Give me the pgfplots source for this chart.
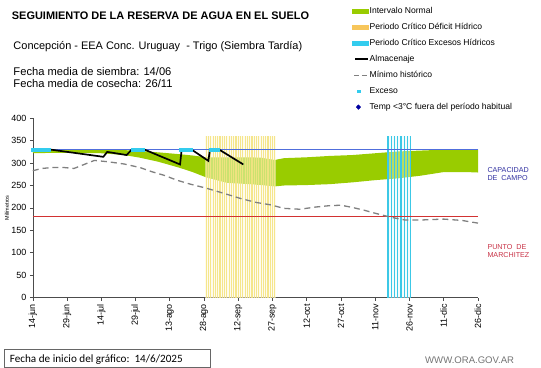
\documentclass[border=0pt]{standalone}
\usepackage{pgfplots}
\pgfplotsset{compat=1.18}
\usepgfplotslibrary{fillbetween}
\usepackage{pgfplotstable}
\usepackage{fontspec}
\setmainfont{Liberation Sans}
\newfontfamily\calib{Carlito}
\definecolor{grn}{RGB}{153,204,0}
\definecolor{yel}{RGB}{244,228,130}
\definecolor{yelpale}{RGB}{253,248,222}
\definecolor{cyn}{RGB}{51,204,238}
\definecolor{cynl}{RGB}{60,200,230}
\definecolor{cynpale}{RGB}{228,247,250}
\definecolor{capblue}{RGB}{80,110,220}
\definecolor{pmred}{RGB}{210,50,50}
\definecolor{dashgray}{RGB}{128,128,128}
\definecolor{txtblue}{RGB}{48,48,160}
\definecolor{txtred}{RGB}{200,50,70}
\definecolor{dkblue}{RGB}{0,0,160}

\pgfplotstableread{
day upper lower
0 328 322
10 329 323
20 330 323
30 330 322
40 329 318
47 327 312
55 324 303
64 320 290
70 317 280
76 313 268
85 313 256
95 313 253
100 312 251
106 307 248
110 311 250
120 313 251
130 316 253
140 318 257
150 322 262
160 326 266
170 328 272
180 330 280
190 330 280
195 330 279
}\bandtable

\pgfplotstableread{
day val
0 283
4 288
8 290
14 290
18 288
22 296
27 306
33 303
40 298
47 290
52 281
58 272
63 262
69 253
76 244
84 232
91 221
98 212
104 207
110 199
117 197
124 202
130 205
135 206
140 201
145 195
150 188
157 179
163 173
170 173
180 175
188 172
195 166
}\mintable

\pgfplotstableread{
day val
0 330
8 330
30.9 314
32.6 325
41.1 318
43.3 330
49 330
64.5 297
65.2 330
69.6 330
76.9 305
77.6 330
82 329
92.2 297
}\almtable

\pgfplotstableread{
day val
0 330
195 330
}\captable

\pgfplotstableread{
day val
0 180
195 180
}\pmtable

\begin{document}
\begin{tikzpicture}
\begin{axis}[at={(32.8bp,-297.5bp)}, anchor=south west, scale only axis,
  width=445.2bp, height=179.2bp,
  xmin=0, xmax=195, ymin=0, ymax=400, clip=false,
  axis x line*=bottom, axis y line*=left,
  axis line style={black!70, line width=0.6pt},
  tick align=outside, major tick length=3bp,
  tick style={black!70, line width=0.6pt},
  ytick={0,50,...,400}, xtick={0,15,...,195},
  xticklabels={14-jun,29-jun,14-jul,29-jul,13-ago,28-ago,12-sep,27-sep,12-oct,27-oct,11-nov,26-nov,11-dic,26-dic},
  xticklabel style={rotate=90, anchor=east, font=\fontsize{9}{10}\selectfont},
  yticklabel style={font=\fontsize{9}{10}\selectfont},
  /pgf/number format/assume math mode=true,
  ylabel={Milímetros},
  ylabel style={at={(axis description cs:-0.058,0.5)}, anchor=center, font=\fontsize{5.5}{6}\selectfont},
  legend cell align=left,
  legend style={at={(0.717,1.625)}, anchor=north west, draw=none, fill=none,
    font=\fontsize{8.6}{9}\selectfont, row sep=6.8bp, inner sep=0pt,
    nodes={inner sep=0.5bp, text height=6.5bp, text depth=1.7bp}},
]
\addlegendimage{legend image code/.code={\fill[grn] (0bp,-1.6bp) rectangle (16bp,1.6bp);}}
\addlegendentry{Intervalo Normal}
\addlegendimage{legend image code/.code={\fill[yel!70!orange] (0bp,-1.6bp) rectangle (16bp,1.6bp);}}
\addlegendentry{Periodo Crítico Déficit Hídrico}
\addlegendimage{legend image code/.code={\fill[cyn] (0bp,-1.6bp) rectangle (16bp,1.6bp);}}
\addlegendentry{Periodo Crítico Excesos Hídricos}
\addlegendimage{legend image code/.code={\draw[black, line width=1.6pt] (3bp,0) -- (16bp,0);}}
\addlegendentry{Almacenaje}
\addlegendimage{legend image code/.code={\draw[dashgray, line width=1.2pt, dash pattern=on 5bp off 2.5bp] (2bp,0) -- (16bp,0);}}
\addlegendentry{Mínimo histórico}
\addlegendimage{legend image code/.code={\fill[cyn] (4.9bp,-1.2bp) rectangle (7.3bp,1.2bp);}}
\addlegendentry{Exceso}
\addlegendimage{legend image code/.code={\fill[dkblue] (6bp,2.3bp) -- (8.2bp,0) -- (6bp,-2.3bp) -- (3.8bp,0) -- cycle;}}
\addlegendentry{Temp <3°C fuera del período habitual}

% green band
\addplot[name path=up, draw=none, forget plot] table[x=day, y=upper] {\bandtable};
\addplot[name path=lo, draw=none, forget plot] table[x=day, y=lower] {\bandtable};
\addplot[grn, forget plot] fill between[of=up and lo];

% critical periods
\addplot[fill=yelpale, draw=none, opacity=0.5, forget plot] coordinates {(75.6,361) (106.5,361)} \closedcycle;
\addplot[ycomb, yel, line width=1.1bp, opacity=0.9, forget plot] coordinates {
(76,361) (77,361) (78,361) (79,361) (80,361) (81,361) (82,361) (83,361) (84,361) (85,361)
(86,361) (87,361) (88,361) (89,361) (90,361) (91,361) (92,361) (93,361) (94,361) (95,361)
(96,361) (97,361) (98,361) (99,361) (100,361) (101,361) (102,361) (103,361) (104,361) (105,361) (106,361)};
\addplot[fill=cynpale, draw=none, opacity=0.4, forget plot] coordinates {(155.3,361) (165.8,361)} \closedcycle;
\addplot[ycomb, cynl, line width=1.2bp, forget plot] coordinates {
(155.6,361) (157.0,361) (158.5,361) (159.9,361) (161.3,361) (162.7,361) (164.2,361) (165.6,361)};

% reference lines
\addplot[draw=capblue, color=capblue, mark=none, line width=0.8pt, forget plot] table[x=day, y=val] {\captable};
\addplot[draw=pmred, color=pmred, mark=none, line width=0.8pt, forget plot] table[x=day, y=val] {\pmtable};

% minimum historic
\addplot[dashgray, mark=none, line width=1.3pt, dash pattern=on 6bp off 4bp, forget plot] table[x=day, y=val] {\mintable};
% storage
\addplot[black, mark=none, line width=1.7pt, forget plot] table[x=day, y=val] {\almtable};
% excess markers
\addplot[only marks, mark=square*, mark size=1.8bp, cyn, forget plot] coordinates {
(0,330) (1,330) (2,330) (3,330) (4,330) (5,330) (6,330) (7,330)
(44,330) (45,330) (46,330) (47,330) (48,330)
(65,330) (66,330) (67,330) (68,330) (69,330)
(78,330) (79,330) (80,330) (81,330)};
\end{axis}

% texts
\node[anchor=base west, inner sep=0pt, font=\fontsize{11}{12}\selectfont\bfseries] at (11.7bp,-19.3bp) {SEGUIMIENTO DE LA RESERVA DE AGUA EN EL SUELO};
\node[anchor=base west, inner sep=0pt, font=\fontsize{11}{12}\selectfont] at (13.3bp,-49.3bp) {Concepción - EEA Conc. Uruguay\ \ - Trigo (Siembra Tardía)};
\node[anchor=base west, inner sep=0pt, font=\fontsize{11.2}{12}\selectfont] at (13.3bp,-75bp) {Fecha media de siembra: 14/06};
\node[anchor=base west, inner sep=0pt, font=\fontsize{11.2}{12}\selectfont] at (13.3bp,-87.3bp) {Fecha media de cosecha: 26/11};
\node[anchor=base west, inner sep=0pt, font=\fontsize{7.2}{8}\selectfont, text=txtblue] at (487.3bp,-172.7bp) {CAPACIDAD};
\node[anchor=base west, inner sep=0pt, font=\fontsize{7.2}{8}\selectfont, text=txtblue] at (487.3bp,-180.7bp) {DE\ \ CAMPO};
\node[anchor=base west, inner sep=0pt, font=\fontsize{7.2}{8}\selectfont, text=txtred] at (487.3bp,-249.3bp) {PUNTO\ \ DE};
\node[anchor=base west, inner sep=0pt, font=\fontsize{7.2}{8}\selectfont, text=txtred] at (487.3bp,-257.3bp) {MARCHITEZ};
\draw[black!60, line width=0.6pt] (4.1bp,-349bp) rectangle (210bp,-367.2bp);
\node[anchor=base west, inner sep=0pt, font=\calib\fontsize{11.2}{12}\selectfont] at (9.7bp,-362bp) {Fecha de inicio del gráfico:\ \ 14/6/2025};
\node[anchor=base west, inner sep=0pt, font=\fontsize{9.6}{11}\selectfont, text=black!55] at (425bp,-363.8bp) {WWW.ORA.GOV.AR};
\path (0bp,0bp) rectangle (541bp,-368bp);
\end{tikzpicture}
\end{document}
